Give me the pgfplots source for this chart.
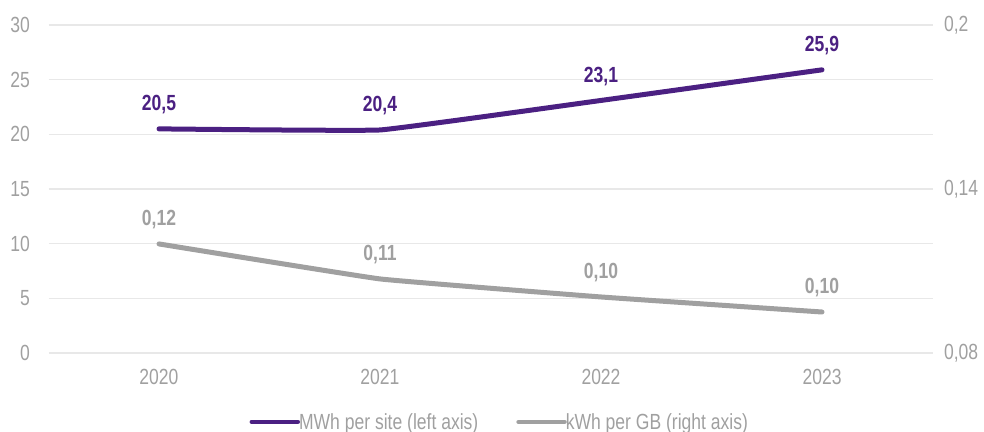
\documentclass[border=0pt]{standalone}
\usepackage{pgfplots}
\pgfplotsset{compat=1.18}
\usepackage{fontspec}
\setmainfont{Liberation Sans}[FakeStretch=0.8]
\definecolor{purp}{RGB}{75,32,130}
\definecolor{lgray}{RGB}{160,160,160}
\definecolor{tgray}{RGB}{160,160,160}
\definecolor{ggrid}{RGB}{232,232,232}
\begin{document}
\begin{tikzpicture}[x=1bp,y=1bp]
\useasboundingbox (-48.5bp,-79bp) rectangle (935.5bp,353bp);
\begin{axis}[
  at={(0,0)}, anchor=south west,
  scale only axis, width=884bp, height=328bp,
  xmin=-0.5, xmax=3.5, ymin=0, ymax=30,
  xtick={0,1,2,3}, xticklabels={2020,2021,2022,2023},
  ytick={0,5,10,15,20,25,30},
  axis line style={draw=none},
  major tick length=0pt,
  ymajorgrids, grid style={ggrid, line width=1.2bp},
  tick label style={font=\fontsize{22}{22}\selectfont, text=tgray},
  /pgf/number format/assume math mode=true,
  yticklabel style={anchor=east, xshift=-15bp},
  xticklabel style={yshift=-13bp},
  clip=false,
  legend style={at={(0.5105,-0.21)}, anchor=center, draw=none, fill=none,
    legend columns=2, font=\fontsize{22}{22}\selectfont, text=tgray,
    /tikz/every even column/.append style={column sep=36bp},
    /tikz/every odd column/.append style={column sep=-3bp}},
  legend cell align=left,
  legend image code/.code={\draw[line width=4.5bp, line cap=round] (0bp,0bp) -- (46bp,0bp);},
]
\addplot[purp, line width=5bp, line cap=round, smooth, tension=0.15,
  nodes near coords, point meta=explicit symbolic,
  every node near coord/.append style={font=\fontsize{22}{22}\bfseries\selectfont, text=purp, yshift=9bp}]
  table[meta=lab] {
x y lab
0 20.5 {20,5}
1 20.4 {20,4}
2 23.1 {23,1}
3 25.9 {25,9}
};
\addlegendentry{MWh per site (left axis)}
\addlegendimage{lgray, line width=4.5bp}
\addlegendentry{kWh per GB (right axis)}
\end{axis}
\begin{axis}[
  at={(0,0)}, anchor=south west,
  scale only axis, width=884bp, height=328bp,
  xmin=-0.5, xmax=3.5, ymin=0.08, ymax=0.2,
  axis x line=none,
  axis y line*=right,
  axis line style={draw=none},
  major tick length=0pt,
  ytick={0.08,0.14,0.2}, yticklabels={{0,08},{0,14},{0,2}},
  tick label style={font=\fontsize{22}{22}\selectfont, text=tgray},
  yticklabel style={anchor=west, xshift=8bp},
  clip=false,
]
\addplot[lgray, line width=5bp, line cap=round, smooth, tension=0.15,
  nodes near coords, point meta=explicit symbolic,
  every node near coord/.append style={font=\fontsize{22}{22}\bfseries\selectfont, text=lgray, yshift=9bp}]
  table[meta=lab] {
x y lab
0 0.1199 {0,12}
1 0.1071 {0,11}
2 0.1005 {0,10}
3 0.0950 {0,10}
};
\end{axis}
\end{tikzpicture}
\end{document}
